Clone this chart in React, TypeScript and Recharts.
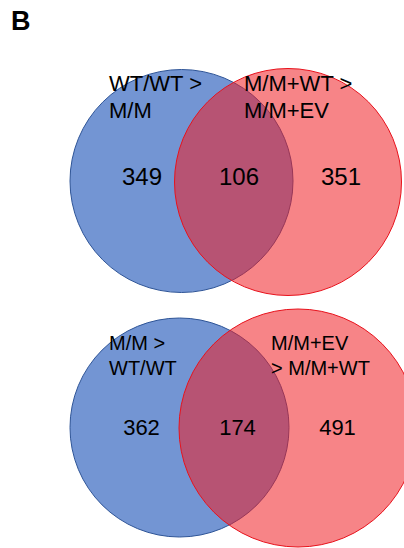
import { Scatter, ScatterChart, XAxis, YAxis } from 'recharts'

const WIDTH = 404
const HEIGHT = 548
const FONT = '"Liberation Sans", Arial, sans-serif'

// region counts: left only, shared, right only
const upperCounts = [349, 106, 351]
const lowerCounts = [362, 174, 491]

// set names, one entry per line
const upperSetNames = [['WT/WT >', 'M/M'], ['M/M+WT >', 'M/M+EV']]
const lowerSetNames = [['M/M >', 'WT/WT'], ['M/M+EV', '> M/M+WT']]

// circle layout in chart units (axes run 1 unit per px)
const upperCircles = [
  { x: 181.5, y: 181, r: 111.5 },
  { x: 288, y: 182, r: 113.5 },
]
const lowerCircles = [
  { x: 179.5, y: 427.5, r: 109.5 },
  { x: 298, y: 428, r: 119 },
]
const upperCountPos = [{ x: 142, y: 185 }, { x: 239, y: 185 }, { x: 341, y: 185 }]
const lowerCountPos = [{ x: 141.5, y: 435 }, { x: 237.5, y: 435 }, { x: 337.5, y: 435 }]
const upperNamePos = [{ x: 109, y: 91 }, { x: 244, y: 91 }]
const lowerNamePos = [{ x: 109, y: 350 }, { x: 271, y: 350 }]

// text sizes per panel
const upperText = { count: 24, name: 22, lead: 26.5 }
const lowerText = { count: 22, name: 20, lead: 25 }

const circleStyles = [
  { fill: '#4472C4', fillOpacity: 0.75, stroke: '#2F5597' },
  { fill: '#F01C22', fillOpacity: 0.54, stroke: '#E8121C' },
]

const leftCircles = [upperCircles[0], lowerCircles[0]].map((c) => ({ ...c, ...circleStyles[0] }))
const rightCircles = [upperCircles[1], lowerCircles[1]].map((c) => ({ ...c, ...circleStyles[1] }))

const countPoints = [
  ...upperCounts.map((v, i) => ({ ...upperCountPos[i], value: v, size: upperText.count })),
  ...lowerCounts.map((v, i) => ({ ...lowerCountPos[i], value: v, size: lowerText.count })),
]
const namePoints = [
  ...upperSetNames.map((lines, i) => ({ ...upperNamePos[i], lines, ...upperText })),
  ...lowerSetNames.map((lines, i) => ({ ...lowerNamePos[i], lines, ...lowerText })),
]

// 1:1 domain, so a radius in data units is a radius in px
const pxPerUnit = 1

const CircleShape = (props: any) => {
  const { cx, cy, payload } = props
  return (
    <circle
      cx={cx}
      cy={cy}
      r={payload.r * pxPerUnit}
      fill={payload.fill}
      fillOpacity={payload.fillOpacity}
      stroke={payload.stroke}
      strokeWidth={1}
    />
  )
}

const CountShape = (props: any) => {
  const { cx, cy, payload } = props
  return (
    <text x={cx} y={cy} textAnchor="middle" fontFamily={FONT} fontSize={payload.size} fill="#000">
      {payload.value}
    </text>
  )
}

const NameShape = (props: any) => {
  const { cx, cy, payload } = props
  return (
    <text x={cx} y={cy} fontFamily={FONT} fontSize={payload.name} fill="#000">
      {payload.lines.map((line: string, i: number) => (
        <tspan key={i} x={cx} dy={i === 0 ? 0 : payload.lead}>
          {line}
        </tspan>
      ))}
    </text>
  )
}

export default function App() {
  return (
    <div style={{ width: WIDTH, height: HEIGHT, background: '#fff', position: 'relative' }}>
      <style>{'body{margin:0}'}</style>
      <ScatterChart width={WIDTH} height={HEIGHT} margin={{ top: 0, right: 0, bottom: 0, left: 0 }}>
        <XAxis type="number" dataKey="x" domain={[0, WIDTH]} hide allowDataOverflow />
        <YAxis type="number" dataKey="y" domain={[0, HEIGHT]} reversed hide allowDataOverflow />
        <Scatter data={leftCircles} shape={CircleShape} isAnimationActive={false} />
        <Scatter data={rightCircles} shape={CircleShape} isAnimationActive={false} />
        <Scatter data={namePoints} shape={NameShape} isAnimationActive={false} />
        <Scatter data={countPoints} shape={CountShape} isAnimationActive={false} />
        <text x={11} y={30} fontFamily={FONT} fontSize={27} fontWeight="bold" fill="#000">
          B
        </text>
      </ScatterChart>
    </div>
  )
}
